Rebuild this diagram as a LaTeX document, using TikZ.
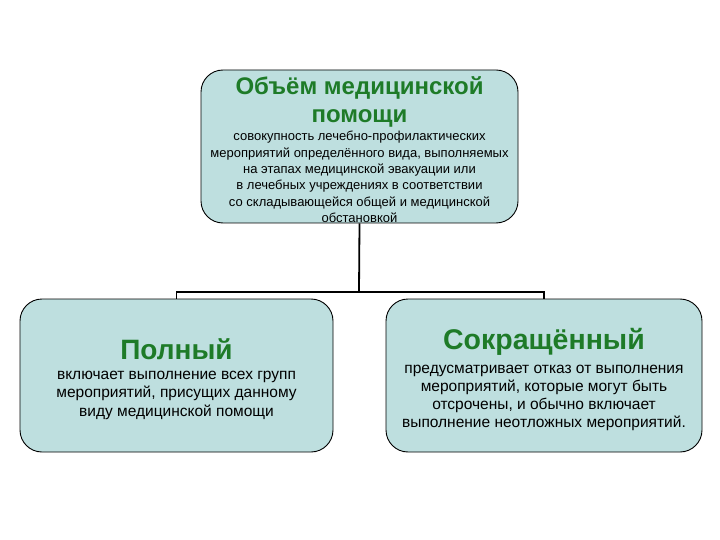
\documentclass[tikz,border=0pt]{standalone}
\usepackage{fontspec}
\setmainfont{Liberation Sans}
\definecolor{boxfill}{RGB}{190,223,223}
\definecolor{titlegreen}{RGB}{30,123,40}
\tikzset{
  box/.style={draw=black, line width=0.9pt, fill=boxfill, rounded corners=22pt,
    minimum height=153pt, inner sep=0pt},
  txt/.style={inner sep=0pt, align=center},
  ttl/.style={txt, text=titlegreen, font=\bfseries},
  link/.style={draw=black, line width=1.8pt}
}
\begin{document}
\begin{tikzpicture}[x=1pt,y=-1pt]
\useasboundingbox (0,0) rectangle (720,540);
\node[box, minimum width=317pt] (top) at (359.5,146.5) {};
\node[box, minimum width=313pt] (left) at (176.5,375.5) {};
\node[box, minimum width=316pt] (right) at (544,375.5) {};
\node[ttl, font=\bfseries\fontsize{24}{28}\selectfont] (toptitle) at (359.5,101.5) {Объём медицинской\\ помощи};
\node[txt, font=\fontsize{13}{16.4}\selectfont] (topbody) at (359.5,177) {совокупность лечебно-профилактических\\
  мероприятий определённого вида, выполняемых\\
  на этапах медицинской эвакуации или\\
  в лечебных учреждениях в соответствии\\
  со складывающейся общей и медицинской\\
  обстановкой};
\node[ttl, font=\bfseries\fontsize{28}{30}\selectfont] (lefttitle) at (176.5,349) {Полный};
\node[txt, font=\fontsize{15.5}{18.5}\selectfont] (leftbody) at (176.5,395) {включает выполнение всех групп\\
  мероприятий, присущих данному\\
  виду медицинской помощи};
\node[ttl, font=\bfseries\fontsize{28.5}{30}\selectfont] (righttitle) at (544,342) {Сокращённый};
\node[txt, font=\fontsize{15.5}{18}\selectfont] (rightbody) at (544,397.5) {предусматривает отказ от выполнения\\
  мероприятий, которые могут быть\\
  отсрочены, и обычно включает\\
  выполнение неотложных мероприятий.};
\coordinate (bar) at (359,292);
\draw[link] (top.south) -- (bar);
\draw[link] (bar) -| (left.north);
\draw[link] (bar) -| (right.north);
\end{tikzpicture}
\end{document}
